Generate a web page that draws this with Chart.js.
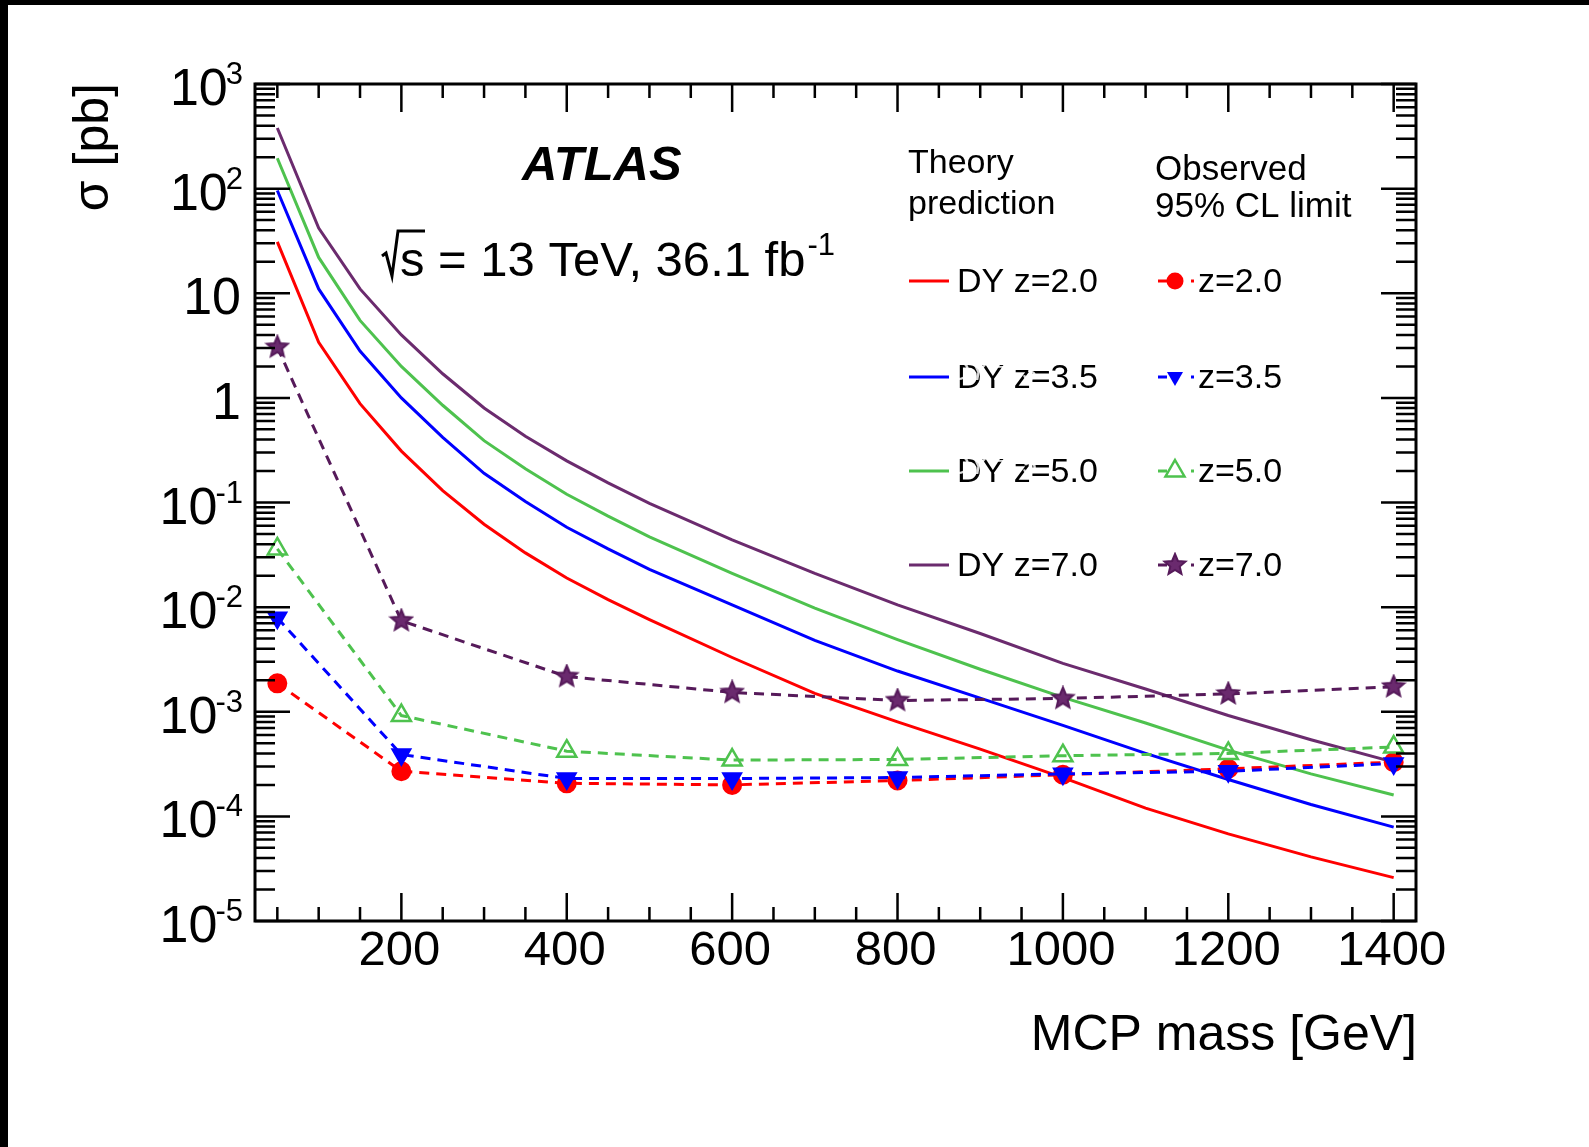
<!DOCTYPE html>
<html>
<head>
<meta charset="utf-8">
<script src="https://cdn.jsdelivr.net/npm/chart.js@4.4.1/dist/chart.umd.min.js"></script>
<style>
  html, body { margin: 0; padding: 0; background: #fff; }
  #wrap { position: relative; width: 1589px; height: 1147px; }
</style>
</head>
<body>
<div id="wrap"><canvas id="grafico"></canvas></div>
<script>
// theory prediction (DY), masses in GeV, sigma in pb
const massTheory = [50, 100, 150, 200, 250, 300, 350, 400, 450, 500, 600, 700, 800, 900, 1000, 1100, 1200, 1300, 1400];
const dyZ2   = [31, 3.4, 0.88, 0.31, 0.13, 0.062, 0.033, 0.019, 0.0118, 7.6e-3, 3.3e-3, 1.5e-3, 8.0e-4, 4.4e-4, 2.35e-4, 1.2e-4, 6.8e-5, 4.1e-5, 2.6e-5];
const dyZ3p5 = [96, 11, 2.8, 1.0, 0.42, 0.19, 0.102, 0.058, 0.036, 0.023, 0.0105, 4.8e-3, 2.45e-3, 1.35e-3, 7.4e-4, 4.0e-4, 2.25e-4, 1.3e-4, 7.9e-5];
const dyZ5   = [195, 22, 5.5, 2.0, 0.85, 0.39, 0.21, 0.12, 0.074, 0.047, 0.021, 9.8e-3, 4.9e-3, 2.55e-3, 1.37e-3, 7.8e-4, 4.3e-4, 2.55e-4, 1.6e-4];
const dyZ7   = [380, 42, 11, 4.0, 1.7, 0.80, 0.43, 0.25, 0.154, 0.098, 0.044, 0.021, 0.0105, 5.6e-3, 2.9e-3, 1.65e-3, 9.2e-4, 5.4e-4, 3.3e-4];

// observed 95% CL limits
const massObs = [50, 200, 400, 600, 800, 1000, 1200, 1400];
const obsZ2   = [1.87e-3, 2.7e-4, 2.07e-4, 2.0e-4, 2.2e-4, 2.5e-4, 2.85e-4, 3.3e-4];
const obsZ3p5 = [7.9e-3, 3.9e-4, 2.3e-4, 2.3e-4, 2.35e-4, 2.55e-4, 2.7e-4, 3.2e-4];
const obsZ5   = [0.036, 9.2e-4, 4.2e-4, 3.45e-4, 3.5e-4, 3.8e-4, 4.0e-4, 4.6e-4];
const obsZ7   = [3.05, 7.4e-3, 2.17e-3, 1.53e-3, 1.28e-3, 1.34e-3, 1.48e-3, 1.73e-3];

// axis ticks
const xTicks = [200, 400, 600, 800, 1000, 1200, 1400];
const xTickLabels = ['200', '400', '600', '800', '1000', '1200', '1400'];
const yDecades = [-5, -4, -3, -2, -1, 0, 1, 2, 3];

const fonte = '"Liberation Sans", Arial, Helvetica, sans-serif';
const corVermelho = '#ff0000';
const corAzul = '#0000ff';
const corVerde = '#4ec24e';
const corRoxo = '#6b2b6e';
const corRoxoObs = '#561a5a';

function criaEstrela(raio, cor) {
    const c = document.createElement('canvas');
    const t = Math.ceil(raio * 2 + 4);
    c.width = t; c.height = t;
    const g = c.getContext('2d');
    g.translate(t / 2, t / 2);
    g.beginPath();
    for (let k = 0; k < 10; k++) {
        const r = k % 2 === 0 ? raio : raio * 0.45;
        const ang = -Math.PI / 2 + k * Math.PI / 5;
        g.lineTo(r * Math.cos(ang), r * Math.sin(ang));
    }
    g.closePath();
    g.fillStyle = '#6a2a6e';
    g.fill();
    g.lineWidth = 2;
    g.strokeStyle = cor;
    g.stroke();
    return c;
}
const estrela = criaEstrela(11, corRoxoObs);

function pontos(xs, ys) {
    return xs.map((m, i) => ({ x: m, y: ys[i] }));
}

function teoria(label, ys, cor) {
    return {
        label: label, data: pontos(massTheory, ys),
        borderColor: cor, borderWidth: 3, pointRadius: 0, tension: 0, fill: false
    };
}

function observado(label, ys, cor, extra) {
    return Object.assign({
        label: label, data: pontos(massObs, ys),
        borderColor: cor, borderWidth: 3, borderDash: [10, 7], tension: 0, fill: false,
        pointBorderColor: cor, pointBackgroundColor: cor
    }, extra);
}

// first dataset is drawn on top
const datasets = [
    observado('z=7.0', obsZ7, corRoxoObs, { pointStyle: estrela, pointRadius: 11 }),
    observado('z=5.0', obsZ5, corVerde, { pointStyle: 'triangle', pointRadius: 11, pointBorderWidth: 2.5, pointBackgroundColor: 'rgba(255,255,255,0)' }),
    observado('z=3.5', obsZ3p5, corAzul, { pointStyle: 'triangle', pointRotation: 180, pointRadius: 9.5 }),
    observado('z=2.0', obsZ2, corVermelho, { pointStyle: 'circle', pointRadius: 8.5 }),
    teoria('DY z=7.0', dyZ7, corRoxo),
    teoria('DY z=5.0', dyZ5, corVerde),
    teoria('DY z=3.5', dyZ3p5, corAzul),
    teoria('DY z=2.0', dyZ2, corVermelho)
];

function desenhaMarcador(ctx, tipo, x, y) {
    ctx.save();
    if (tipo === 'circulo') {
        ctx.fillStyle = corVermelho;
        ctx.beginPath(); ctx.arc(x, y, 8.5, 0, Math.PI * 2); ctx.fill();
    } else if (tipo === 'trianguloBaixo') {
        ctx.fillStyle = corAzul;
        ctx.beginPath();
        ctx.moveTo(x - 8, y - 5); ctx.lineTo(x + 8, y - 5); ctx.lineTo(x, y + 9);
        ctx.closePath(); ctx.fill();
    } else if (tipo === 'trianguloAberto') {
        ctx.strokeStyle = corVerde; ctx.lineWidth = 2.5;
        ctx.beginPath();
        ctx.moveTo(x, y - 11); ctx.lineTo(x + 9.5, y + 5.5); ctx.lineTo(x - 9.5, y + 5.5);
        ctx.closePath(); ctx.fillStyle = '#fff'; ctx.fill(); ctx.stroke();
    } else {
        ctx.drawImage(estrela, x - estrela.width / 2, y - estrela.height / 2);
    }
    ctx.restore();
}

const molduraPlugin = {
    id: 'moldura',
    beforeDraw(chart) {
        const ctx = chart.ctx;
        ctx.save();
        ctx.fillStyle = '#fff';
        ctx.fillRect(0, 0, chart.width, chart.height);
        ctx.fillStyle = '#000';
        ctx.fillRect(0, 0, chart.width, 5);
        ctx.fillRect(0, 0, 8, chart.height);
        ctx.restore();
    },
    afterDraw(chart) {
        const ctx = chart.ctx;
        const sx = chart.scales.x, sy = chart.scales.y;
        const a = chart.chartArea;
        ctx.save();
        ctx.strokeStyle = '#000';
        ctx.fillStyle = '#000';

        // ticks x (top and bottom, inside)
        ctx.lineWidth = 2.5;
        ctx.beginPath();
        for (let m = 50; m <= 1400; m += 50) {
            const px = sx.getPixelForValue(m);
            const len = (m % 200 === 0) ? 28 : 14;
            ctx.moveTo(px, a.bottom); ctx.lineTo(px, a.bottom - len);
            ctx.moveTo(px, a.top); ctx.lineTo(px, a.top + len);
        }
        // ticks y (log)
        for (let e = -5; e <= 3; e++) {
            for (let k = 1; k <= 9; k++) {
                const v = k * Math.pow(10, e);
                if (v > 1000.001) break;
                const py = sy.getPixelForValue(v);
                const len = k === 1 ? 35 : 20;
                ctx.moveTo(a.left, py); ctx.lineTo(a.left + len, py);
                ctx.moveTo(a.right, py); ctx.lineTo(a.right - len, py);
            }
        }
        ctx.stroke();

        // frame
        ctx.lineWidth = 3;
        ctx.strokeRect(a.left, a.top, a.right - a.left, a.bottom - a.top);

        // x labels
        ctx.font = '49px ' + fonte;
        ctx.textAlign = 'center';
        ctx.textBaseline = 'alphabetic';
        xTicks.forEach((v, i) => {
            ctx.fillText(xTickLabels[i], sx.getPixelForValue(v) - 2, 965);
        });

        // y labels 10^n
        ctx.textAlign = 'right';
        yDecades.forEach(e => {
            const py = sy.getPixelForValue(Math.pow(10, e));
            const base = py + 21;
            if (e === 0 || e === 1) {
                ctx.font = '52px ' + fonte;
                ctx.fillText(e === 0 ? '1' : '10', 241, base);
                return;
            }
            ctx.font = '31px ' + fonte;
            const txt = String(e);
            const w = ctx.measureText(txt).width;
            ctx.fillText(txt, 243, py);
            ctx.font = '52px ' + fonte;
            ctx.fillText('10', 243 - w + 2, base);
        });

        // axis titles
        ctx.font = '50px ' + fonte;
        ctx.textAlign = 'right';
        ctx.fillText('MCP mass [GeV]', 1417, 1050);
        ctx.save();
        ctx.translate(108, 83);
        ctx.rotate(-Math.PI / 2);
        ctx.font = '50px ' + fonte;
        ctx.textAlign = 'right';
        ctx.fillText('σ [pb]', 0, 0);
        ctx.restore();

        // ATLAS label
        ctx.textAlign = 'left';
        ctx.font = 'italic bold 49px ' + fonte;
        ctx.fillText('ATLAS', 522, 180);

        // sqrt(s) label
        ctx.lineWidth = 3;
        ctx.beginPath();
        ctx.moveTo(382, 256); ctx.lineTo(386, 253); ctx.lineTo(392, 276);
        ctx.lineTo(398, 231); ctx.lineTo(425, 231);
        ctx.stroke();
        ctx.font = '49px ' + fonte;
        const txtE = 's = 13 TeV, 36.1 fb';
        ctx.fillText(txtE, 400, 276);
        const wE = ctx.measureText(txtE).width;
        ctx.font = '31px ' + fonte;
        ctx.fillText('-1', 400 + wE + 2, 255);

        // legend
        ctx.font = '34px ' + fonte;
        ctx.fillText('Theory', 908, 173);
        ctx.fillText('prediction', 908, 214);
        ctx.font = '35px ' + fonte;
        ctx.fillText('Observed', 1155, 180);
        ctx.fillText('95% CL limit', 1155, 217);

        const linhas = [
            { y: 281, cor: corVermelho, cor2: corVermelho, txt: 'DY z=2.0', obs: 'z=2.0', tipo: 'circulo', borrao: '' },
            { y: 377, cor: corAzul, cor2: corAzul, txt: 'DY z=3.5', obs: 'z=3.5', tipo: 'trianguloBaixo', borrao: 'DY z=3' },
            { y: 471, cor: corVerde, cor2: corVerde, txt: 'DY z=5.0', obs: 'z=5.0', tipo: 'trianguloAberto', borrao: 'DY z=5' },
            { y: 565, cor: corRoxo, cor2: corRoxoObs, txt: 'DY z=7.0', obs: 'z=7.0', tipo: 'estrela', borrao: '' }
        ];
        linhas.forEach(l => {
            ctx.lineWidth = 3;
            ctx.strokeStyle = l.cor;
            ctx.setLineDash([]);
            ctx.beginPath(); ctx.moveTo(909, l.y); ctx.lineTo(949, l.y); ctx.stroke();
            ctx.strokeStyle = l.cor2;
            ctx.setLineDash([9, 24, 3, 100]);
            ctx.beginPath(); ctx.moveTo(1158, l.y); ctx.lineTo(1195, l.y); ctx.stroke();
            ctx.setLineDash([]);
            desenhaMarcador(ctx, l.tipo, 1175, l.y);
            ctx.fillStyle = '#000';
            ctx.font = '34px ' + fonte;
            ctx.fillText(l.txt, 957, l.y + 11);
            ctx.fillText(l.obs, 1198, l.y + 11);
            // white smudge over the label, as in the original image
            if (l.borrao) {
                ctx.fillStyle = 'rgba(255,255,255,0.85)';
                ctx.font = 'italic 26px ' + fonte;
                ctx.fillText(l.borrao, 951, l.y + 3);
            }
        });
        ctx.restore();
    }
};

const config = {
    type: 'line',
    data: { datasets: datasets },
    options: {
        responsive: true,
        maintainAspectRatio: false,
        animation: false,
        layout: { padding: { left: 255, right: 173, top: 84, bottom: 226 } },
        plugins: { legend: { display: false }, tooltip: { enabled: false } },
        scales: {
            x: { type: 'linear', min: 23, max: 1427, display: false },
            y: { type: 'logarithmic', min: 1e-5, max: 1e3, display: false }
        }
    },
    plugins: [molduraPlugin]
};

const grafico = new Chart(document.getElementById('grafico'), config);
</script>
</body>
</html>
